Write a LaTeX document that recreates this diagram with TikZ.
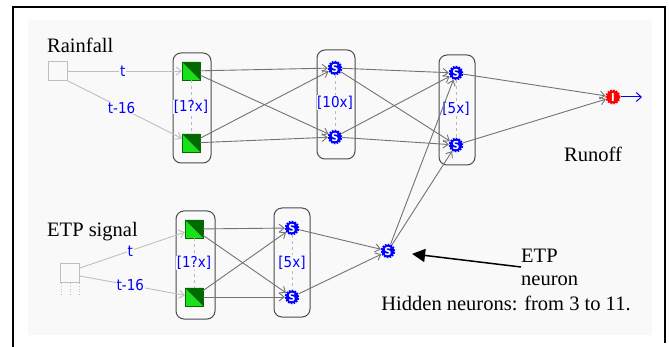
\documentclass[tikz,border=0pt]{standalone}
\usepackage{fontspec}
\setmainfont{Liberation Serif}
\newfontfamily\lblfont{DejaVu Sans Condensed}
\usetikzlibrary{arrows.meta}

\definecolor{bgc}{RGB}{249,249,249}
\definecolor{litegreen}{RGB}{25,225,25}
\definecolor{darkgreen}{RGB}{0,105,0}

\begin{document}
\begin{tikzpicture}[x=1pt,y=-1pt,
  txt/.style={font=\fontsize{20.5}{23}\selectfont,inner sep=0pt},
  lbl/.style={text=blue,font=\lblfont\fontsize{15}{15}\selectfont,inner sep=0.6pt,fill=bgc},
  lin/.style={gray!50,line width=0.9pt,-{Straight Barb[length=5pt,width=8pt]}},
  wire/.style={black!55,line width=0.9pt,-{Straight Barb[length=5pt,width=8pt]}},
  grp/.style={draw=black!70,line width=1pt,rounded corners=8pt,inner sep=0pt},
  inbox/.style={draw=gray!50,line width=1pt,minimum size=19pt,inner sep=0pt},
  linneuron/.style={draw=darkgreen,line width=0.3pt,minimum size=18pt,inner sep=0pt,
    path picture={
      \fill[litegreen] (path picture bounding box.north west) -- (path picture bounding box.south west)
        -- (path picture bounding box.south east) -- cycle;
      \fill[darkgreen] (path picture bounding box.north west) -- (path picture bounding box.north east)
        -- (path picture bounding box.south east) -- cycle;}},
  signeuron/.style={circle,fill=blue,draw=blue,line width=2pt,dash pattern=on 1.6pt off 1.2pt,
    minimum size=12.5pt,inner sep=0pt,text=white,font=\lblfont\bfseries\fontsize{11}{11}\selectfont},
  outneuron/.style={signeuron,fill=red,draw=red,minimum size=13pt}]

\useasboundingbox (0,0) rectangle (669,347);
\fill[bgc] (28,20) rectangle (652,335);
\draw[line width=1.5pt] (13,347) -- (13,7) -- (665,7) -- (665,343);

% inputs
\node[inbox] (rin) at (58,71) {};
\node[inbox] (ein) at (70,273) {};
\foreach \s in {-9,0,9}
  \draw[gray!50,dotted,line width=0.8pt] ([xshift=\s pt]ein.south) -- ++(0,13);

\node[txt,anchor=west] (rlbl) at (47,45) {Rainfall};
\node[txt,anchor=west] (elbl) at (47,232) {ETP signal};

% groups
\node[grp,minimum width=38pt,minimum height=110pt] (box1) at (192,108) {};
\node[grp,minimum width=38pt,minimum height=109pt] (box2) at (336,104.5) {};
\node[grp,minimum width=36pt,minimum height=110pt] (box3) at (457,110) {};
\node[grp,minimum width=39pt,minimum height=108pt] (box4) at (195.5,265) {};
\node[grp,minimum width=36pt,minimum height=109pt] (box5) at (292,262.5) {};

% neurons
\node[linneuron] (h1a) at (191,71) {};
\node[linneuron] (h1b) at (191,143) {};
\node[signeuron] (h2a) at (335,68) {S};
\node[signeuron] (h2b) at (335,137) {S};
\node[signeuron] (h3a) at (456,73) {S};
\node[signeuron] (h3b) at (456,145) {S};
\node[linneuron] (e1a) at (194,229) {};
\node[linneuron] (e1b) at (194,297) {};
\node[signeuron] (e2a) at (292,228) {S};
\node[signeuron] (e2b) at (292,297) {S};
\node[signeuron] (etp) at (388,251) {S};
\node[outneuron] (out) at (613,97) {I};
\coordinate (outend) at (642,97);

% group counts
\draw[gray!55,dashed] (h1a) -- (h1b) node[midway,lbl] {[1?x]};
\draw[gray!55,dashed] (h2a) -- (h2b) node[midway,lbl] {[10x]};
\draw[gray!55,dashed] (h3a) -- (h3b) node[midway,lbl] {[5x]};
\draw[gray!55,dashed] (e1a) -- (e1b) node[midway,lbl] {[1?x]};
\draw[gray!55,dashed] (e2a) -- (e2b) node[midway,lbl] {[5x]};

% delayed inputs
\draw[lin] (rin.east) -- (h1a) node[pos=0.48,lbl] {t};
\draw[lin] (rin.south east) -- (h1b) node[pos=0.47,lbl] {t-16};
\draw[lin] ([yshift=5pt]ein.east) -- (e1a) node[pos=0.48,lbl] {t};
\draw[lin] ([yshift=-3pt]ein.east) -- (e1b) node[pos=0.48,lbl] {t-16};

% weights
\foreach \a in {h1a,h1b}
  \foreach \b in {h2a,h2b}
    \draw[wire] (\a) -- (\b);
\foreach \a in {h2a,h2b,etp}
  \foreach \b in {h3a,h3b}
    \draw[wire] (\a) -- (\b);
\foreach \a in {e1a,e1b}
  \foreach \b in {e2a,e2b}
    \draw[wire] (\a) -- (\b);
\foreach \a in {e2a,e2b}
  \draw[wire] (\a) -- (etp);
\foreach \a in {h3a,h3b}
  \draw[wire] (\a) -- (out);
\draw[blue,line width=1pt,-{Straight Barb[length=5pt,width=9pt]}] (out) -- (outend);

\node[txt] (runoff) at (593,154) {Runoff};
\node[txt,anchor=west,align=left] (etpnote) at (521,267) {ETP\\neuron};
\node[txt] (hidden) at (506,303) {Hidden neurons: from 3 to 11.};
\draw[line width=1.5pt,shorten >=17pt,-{Triangle[length=13pt,width=13pt]}] (etpnote.west) -- (etp);

\end{tikzpicture}
\end{document}
